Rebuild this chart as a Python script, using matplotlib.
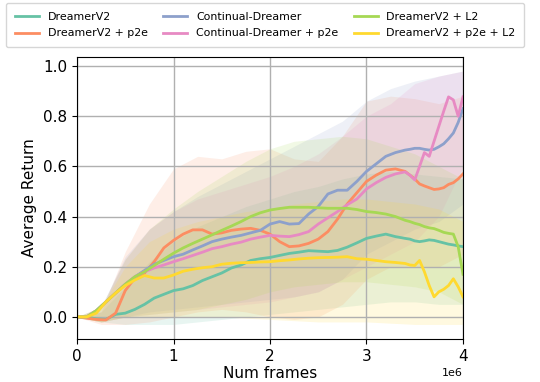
import matplotlib
matplotlib.use("Agg")
import matplotlib.pyplot as plt
import numpy as np

# x positions in millions of frames
frames = [0.0, 0.1, 0.2, 0.3, 0.4, 0.5, 0.6, 0.7, 0.8, 0.9,
          1.0, 1.1, 1.2, 1.3, 1.4, 1.5, 1.6, 1.7, 1.8, 1.9,
          2.0, 2.1, 2.2, 2.3, 2.4, 2.5, 2.6, 2.7, 2.8, 2.9,
          3.0, 3.1, 3.2, 3.3, 3.4, 3.45, 3.5, 3.55, 3.6, 3.65,
          3.7, 3.75, 3.8, 3.85, 3.9, 3.95, 4.0]

dreamer = [0.0, 0.0, -0.008, -0.01, 0.01, 0.015, 0.03, 0.05, 0.075, 0.09,
           0.105, 0.112, 0.125, 0.145, 0.16, 0.175, 0.195, 0.207, 0.225, 0.232,
           0.237, 0.245, 0.253, 0.258, 0.264, 0.262, 0.26, 0.265, 0.278, 0.295,
           0.313, 0.322, 0.33, 0.32, 0.313, 0.31, 0.303, 0.3, 0.303, 0.307,
           0.305, 0.3, 0.295, 0.29, 0.287, 0.283, 0.28]
dreamer_p2e = [0.0, -0.005, -0.01, -0.012, 0.015, 0.105, 0.155, 0.175, 0.22, 0.275,
               0.305, 0.33, 0.347, 0.347, 0.33, 0.335, 0.345, 0.35, 0.353, 0.345,
               0.33, 0.3, 0.28, 0.283, 0.293, 0.31, 0.34, 0.39, 0.45, 0.495,
               0.54, 0.565, 0.585, 0.59, 0.58, 0.565, 0.55, 0.53, 0.522, 0.515,
               0.508, 0.51, 0.515, 0.528, 0.535, 0.55, 0.57]
continual = [0.0, 0.0, 0.025, 0.06, 0.095, 0.13, 0.16, 0.185, 0.21, 0.225,
             0.24, 0.25, 0.267, 0.283, 0.3, 0.31, 0.318, 0.325, 0.335, 0.345,
             0.37, 0.38, 0.37, 0.372, 0.41, 0.44, 0.49, 0.505, 0.505, 0.54,
             0.58, 0.61, 0.64, 0.655, 0.665, 0.668, 0.672, 0.672, 0.668, 0.665,
             0.668, 0.678, 0.69, 0.71, 0.733, 0.775, 0.83]
continual_p2e = [0.0, 0.0, 0.025, 0.06, 0.095, 0.13, 0.16, 0.18, 0.195, 0.207,
                 0.22, 0.232, 0.245, 0.258, 0.272, 0.28, 0.29, 0.298, 0.31, 0.318,
                 0.325, 0.322, 0.32, 0.328, 0.34, 0.37, 0.395, 0.42, 0.447, 0.47,
                 0.51, 0.535, 0.556, 0.57, 0.578, 0.565, 0.546, 0.6, 0.655, 0.64,
                 0.7, 0.76, 0.82, 0.877, 0.865, 0.8, 0.877]
dreamer_l2 = [0.0, 0.0, 0.025, 0.06, 0.095, 0.13, 0.16, 0.18, 0.205, 0.23,
              0.254, 0.275, 0.293, 0.31, 0.327, 0.345, 0.362, 0.38, 0.4, 0.415,
              0.426, 0.432, 0.437, 0.437, 0.437, 0.435, 0.433, 0.433, 0.433, 0.428,
              0.42, 0.416, 0.41, 0.4, 0.385, 0.38, 0.373, 0.368, 0.36, 0.355,
              0.352, 0.345, 0.337, 0.333, 0.33, 0.28, 0.17]
dreamer_p2e_l2 = [0.0, 0.0, 0.015, 0.06, 0.095, 0.125, 0.147, 0.165, 0.155, 0.155,
                  0.167, 0.182, 0.19, 0.196, 0.2, 0.21, 0.214, 0.216, 0.217, 0.219,
                  0.22, 0.224, 0.227, 0.231, 0.234, 0.236, 0.237, 0.238, 0.24, 0.232,
                  0.23, 0.225, 0.22, 0.217, 0.213, 0.207, 0.205, 0.225, 0.18, 0.125,
                  0.08, 0.1, 0.11, 0.125, 0.152, 0.12, 0.08]

# std bands on a coarser grid
band_frames = [0.0, 0.25, 0.5, 0.75, 1.0, 1.25, 1.5, 1.75, 2.0, 2.25,
               2.5, 2.75, 3.0, 3.25, 3.5, 3.75, 4.0]
dreamer_hi = [0.0, 0.02, 0.12, 0.22, 0.3, 0.36, 0.4, 0.44, 0.47, 0.5,
              0.52, 0.55, 0.57, 0.58, 0.57, 0.56, 0.55]
dreamer_lo = [0.0, -0.02, -0.03, -0.03, -0.03, -0.02, -0.01, 0.0, 0.01, 0.02,
              0.03, 0.04, 0.05, 0.06, 0.06, 0.05, 0.05]
dreamer_p2e_hi = [0.0, 0.02, 0.26, 0.45, 0.59, 0.64, 0.63, 0.66, 0.67, 0.63,
                  0.62, 0.72, 0.86, 0.88, 0.87, 0.85, 0.88]
dreamer_p2e_lo = [0.0, -0.03, -0.03, -0.02, 0.0, 0.02, 0.03, 0.02, 0.0, -0.01,
                  0.0, 0.05, 0.15, 0.2, 0.2, 0.2, 0.25]
continual_hi = [0.0, 0.04, 0.24, 0.35, 0.42, 0.48, 0.53, 0.58, 0.63, 0.68,
                0.73, 0.78, 0.86, 0.91, 0.94, 0.96, 0.98]
continual_lo = [0.0, -0.02, 0.0, 0.02, 0.03, 0.04, 0.05, 0.06, 0.07, 0.08,
                0.1, 0.15, 0.25, 0.3, 0.35, 0.38, 0.45]
continual_p2e_hi = [0.0, 0.04, 0.23, 0.35, 0.42, 0.47, 0.5, 0.53, 0.56, 0.6,
                    0.65, 0.72, 0.8, 0.85, 0.93, 0.96, 0.98]
continual_p2e_lo = [0.0, -0.02, 0.0, 0.01, 0.02, 0.03, 0.04, 0.05, 0.06, 0.08,
                    0.1, 0.15, 0.2, 0.25, 0.3, 0.4, 0.6]
dreamer_l2_hi = [0.0, 0.04, 0.23, 0.35, 0.43, 0.5, 0.56, 0.62, 0.67, 0.7,
                 0.71, 0.72, 0.71, 0.68, 0.65, 0.6, 0.55]
dreamer_l2_lo = [0.0, -0.02, 0.0, 0.01, 0.02, 0.03, 0.05, 0.07, 0.1, 0.12,
                 0.13, 0.14, 0.14, 0.13, 0.12, 0.1, 0.05]
dreamer_p2e_l2_hi = [0.0, 0.04, 0.2, 0.3, 0.35, 0.38, 0.4, 0.42, 0.43, 0.45,
                     0.46, 0.47, 0.47, 0.46, 0.45, 0.43, 0.38]
dreamer_p2e_l2_lo = [0.0, -0.02, 0.0, 0.0, 0.0, 0.0, 0.0, -0.005, -0.01, -0.015,
                     -0.02, -0.02, -0.02, -0.025, -0.03, -0.03, -0.03]

labels = ["DreamerV2", "DreamerV2 + p2e", "Continual-Dreamer",
          "Continual-Dreamer + p2e", "DreamerV2 + L2", "DreamerV2 + p2e + L2"]
colors = ["#66c2a5", "#fc8d62", "#8da0cb", "#e78ac3", "#a6d854", "#ffd92f"]
means = [dreamer, dreamer_p2e, continual, continual_p2e, dreamer_l2, dreamer_p2e_l2]
highs = [dreamer_hi, dreamer_p2e_hi, continual_hi, continual_p2e_hi, dreamer_l2_hi, dreamer_p2e_l2_hi]
lows = [dreamer_lo, dreamer_p2e_lo, continual_lo, continual_p2e_lo, dreamer_l2_lo, dreamer_p2e_l2_lo]

fig = plt.figure(figsize=(5.4, 3.82), dpi=100)
ax = fig.add_axes([0.1426, 0.1126, 0.7148, 0.7382])

x = np.array(frames) * 1e6
bx = np.array(band_frames) * 1e6
for m, hi, lo, c, lab in zip(means, highs, lows, colors, labels):
    ax.fill_between(bx, lo, hi, color=c, alpha=0.15, linewidth=0)
    ax.plot(x, m, color=c, linewidth=2, label=lab)

ax.set_xlim(0, 4e6)
ax.set_ylim(-0.088, 1.036)
ax.set_xticks([0, 1e6, 2e6, 3e6, 4e6])
ax.set_yticks([0.0, 0.2, 0.4, 0.6, 0.8, 1.0])
ax.tick_params(labelsize=11)
ax.xaxis.get_offset_text().set_fontsize(8)
ax.grid(True, color="#b0b0b0", linewidth=1)
ax.set_xlabel("Num frames", fontsize=11, labelpad=2)
ax.set_ylabel("Average Return", fontsize=11)

fig.legend(loc="upper left", bbox_to_anchor=(0.011, 0.992), ncol=3,
           fontsize=7.9, frameon=True, columnspacing=1.4, handlelength=2.2,
           handletextpad=0.8, labelspacing=0.6, borderpad=0.8, borderaxespad=0)

plt.savefig("out.png", dpi=100)
